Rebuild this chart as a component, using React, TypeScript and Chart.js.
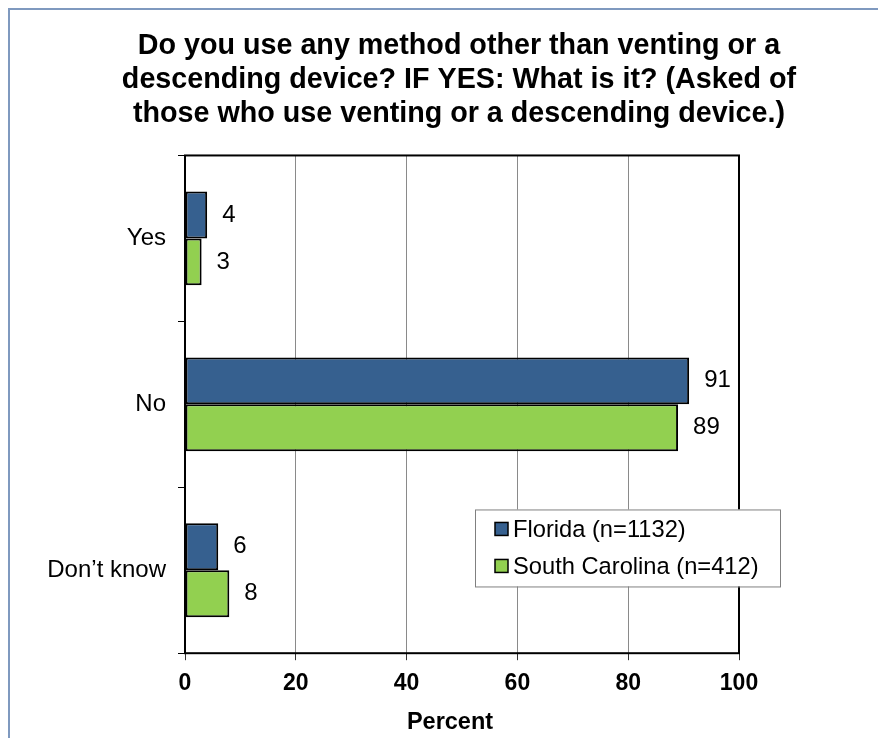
import React, { useEffect, useRef } from "react";
import { Chart, registerables } from "chart.js";

Chart.register(...registerables);

// Survey answers and the share of anglers (percent) giving each one
const categories = ["Yes", "No", "Don’t know"];
const seriesNames = ["Florida (n=1132)", "South Carolina (n=412)"];
const florida = [4, 91, 6];
const southCarolina = [3, 89, 8];
const percentTicks = [0, 20, 40, 60, 80, 100];
const titleLines = [
  "Do you use any method other than venting or a",
  "descending device? IF YES: What is it? (Asked of",
  "those who use venting or a descending device.)",
];
const axisTitle = "Percent";

const seriesColors = ["#36608F", "#92D050"];
const FONT = "'Liberation Sans', Arial, Helvetica, sans-serif";

// Black frame around the plotting area
const plotFrame = {
  id: "plotFrame",
  beforeDatasetsDraw(chart: any) {
    const { ctx, chartArea: a } = chart;
    ctx.save();
    ctx.strokeStyle = "#000";
    ctx.lineWidth = 2;
    ctx.strokeRect(a.left, a.top, a.right - a.left, a.bottom - a.top);
    ctx.restore();
  },
};

// Value printed just past the end of each bar
const valueLabels = {
  id: "valueLabels",
  afterDatasetsDraw(chart: any) {
    const { ctx } = chart;
    ctx.save();
    ctx.font = `24px ${FONT}`;
    ctx.fillStyle = "#000";
    ctx.textAlign = "left";
    ctx.textBaseline = "middle";
    chart.data.datasets.forEach((ds: any, i: number) => {
      const meta = chart.getDatasetMeta(i);
      meta.data.forEach((bar: any, j: number) => {
        ctx.fillText(String(ds.data[j]), bar.x + 15, bar.y);
      });
    });
    ctx.restore();
  },
};

// Value-axis caption, set slightly left of the plot's centre
const axisCaption = {
  id: "axisCaption",
  afterDraw(chart: any) {
    const { ctx, chartArea: a } = chart;
    ctx.save();
    ctx.font = `bold 23.5px ${FONT}`;
    ctx.fillStyle = "#000";
    ctx.textAlign = "center";
    ctx.textBaseline = "middle";
    ctx.fillText(axisTitle, (a.left + a.right) / 2 - 12, a.bottom + 69);
    ctx.restore();
  },
};

// Boxed legend sitting inside the lower right of the plot
const boxedLegend = {
  id: "boxedLegend",
  afterDraw(chart: any) {
    const { ctx, chartArea: a } = chart;
    const left = a.left + 290;
    const top = a.top + 354;
    const w = 305;
    const h = 77;
    ctx.save();
    ctx.fillStyle = "#fff";
    ctx.fillRect(left, top, w, h);
    ctx.strokeStyle = "#808080";
    ctx.lineWidth = 1;
    ctx.strokeRect(left + 0.5, top + 0.5, w, h);
    ctx.font = `23.7px ${FONT}`;
    ctx.textAlign = "left";
    ctx.textBaseline = "middle";
    chart.data.datasets.forEach((ds: any, i: number) => {
      const cy = top + 20 + i * 37;
      ctx.fillStyle = ds.backgroundColor;
      ctx.fillRect(left + 20, cy - 7, 13, 13);
      ctx.strokeStyle = "#000";
      ctx.lineWidth = 1.5;
      ctx.strokeRect(left + 20, cy - 7, 13, 13);
      ctx.fillStyle = "#000";
      ctx.fillText(ds.label, left + 38, cy + 1);
    });
    ctx.restore();
  },
};

export default function App() {
  const canvasRef = useRef<HTMLCanvasElement | null>(null);

  useEffect(() => {
    if (!canvasRef.current) return;
    Chart.defaults.font.family = FONT;
    const chart = new Chart(canvasRef.current, {
      type: "bar",
      data: {
        labels: categories,
        datasets: [
          {
            label: seriesNames[0],
            data: florida,
            backgroundColor: seriesColors[0],
            borderColor: "#000",
            borderWidth: 2,
            borderSkipped: false,
            categoryPercentage: 0.566,
            barPercentage: 1,
          },
          {
            label: seriesNames[1],
            data: southCarolina,
            backgroundColor: seriesColors[1],
            borderColor: "#000",
            borderWidth: 2,
            borderSkipped: false,
            categoryPercentage: 0.566,
            barPercentage: 1,
          },
        ],
      },
      options: {
        indexAxis: "y",
        responsive: false,
        animation: false,
        layout: { padding: { left: 0, right: 0, top: 0, bottom: 33.2 } },
        plugins: {
          legend: { display: false },
          tooltip: { enabled: false },
          title: {
            display: true,
            text: titleLines,
            color: "#000",
            font: { size: 28.7, weight: "bold", family: FONT, lineHeight: 1.19 },
            padding: { top: 19, bottom: 24 },
          },
        },
        scales: {
          x: {
            min: 0,
            max: 100,
            afterBuildTicks: (scale: any) => {
              scale.ticks = percentTicks.map((v) => ({ value: v }));
            },
            grid: {
              color: "#8a8a8a",
              lineWidth: 1,
              tickColor: "#333",
              tickLength: 7,
            },
            border: { display: false },
            ticks: {
              color: "#000",
              padding: 10,
              font: { size: 23, weight: "bold", family: FONT },
            },
          },
          y: {
            afterFit: (scale: any) => {
              scale.width = 175;
            },
            grid: {
              offset: true,
              drawOnChartArea: false,
              tickColor: "#000",
              tickLength: 7,
            },
            border: { display: false },
            ticks: {
              color: "#000",
              padding: 12,
              font: { size: 24, family: FONT },
            },
          },
          spacer: {
            type: "linear",
            position: "right",
            display: true,
            grid: { display: false },
            border: { display: false },
            ticks: { display: false },
            afterFit: (scale: any) => {
              scale.width = 169;
            },
          },
        },
      },
      plugins: [plotFrame, valueLabels, boxedLegend, axisCaption],
    } as any);
    return () => chart.destroy();
  }, []);

  return (
    <div
      style={{
        position: "fixed",
        left: 8,
        top: 8,
        width: 870,
        height: 730,
        overflow: "hidden",
        background: "#fff",
      }}
    >
      <div
        style={{
          borderLeft: "2px solid #7F99BF",
          borderTop: "2px solid #7F99BF",
          width: 900,
          height: 760,
        }}
      >
        <canvas ref={canvasRef} width={898} height={731} style={{ display: "block" }} />
      </div>
    </div>
  );
}
